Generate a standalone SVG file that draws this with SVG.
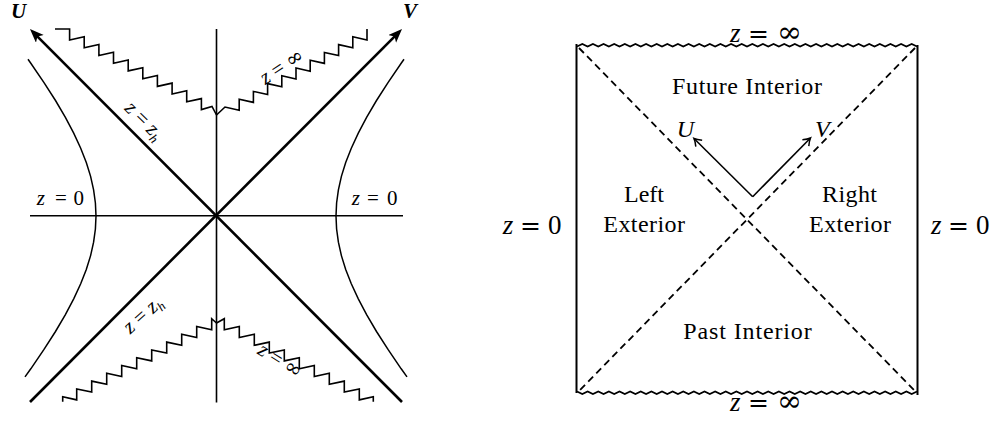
<svg xmlns="http://www.w3.org/2000/svg" width="1002" height="424" viewBox="0 0 1002 424">
<style>
.ln{stroke:#000;fill:none;stroke-linejoin:miter}
.ax{stroke-width:1.6}
.dg{stroke-width:2.6}
.hy{stroke-width:1.5}
.zz{stroke-width:1.6}
.bx{stroke-width:2}
.rz{stroke-width:1.8}
.da{stroke-width:1.8;stroke-dasharray:7 4.5}
.ar{stroke-width:1.6}
.t{font-family:"Liberation Serif","Times New Roman",serif;fill:#000}
.i{font-style:italic}
.s20{font-size:21px}
.s19{font-size:21px}
.s24{font-size:24px}
.s27{font-size:27px}
.inf{font-family:"DejaVu Serif",serif}
.eq{font-family:"DejaVu Serif",serif;font-size:25px}
</style>
<defs>
<marker id="ah" markerUnits="userSpaceOnUse" markerWidth="16" markerHeight="12" refX="10" refY="5.5" orient="auto">
<path d="M0,0 L14,5.5 L0,11 L3.5,5.5 z" fill="#000"/>
</marker>
<marker id="oa" markerUnits="userSpaceOnUse" markerWidth="12" markerHeight="12" refX="8" refY="5" orient="auto">
<path d="M1,0.5 Q5,3.8 8,5 Q5,6.2 1,9.5" fill="none" stroke="#000" stroke-width="1.5"/>
</marker>
</defs>

<g id="connectors">
<!-- left diagram -->
<line class="ln ax" x1="216.5" y1="29" x2="216.5" y2="402.5"/>
<line class="ln ax" x1="30" y1="215.7" x2="403" y2="215.7"/>
<line class="ln dg" x1="402" y1="402" x2="32.8" y2="31.8" marker-end="url(#ah)"/>
<line class="ln dg" x1="30" y1="402" x2="399.2" y2="31.8" marker-end="url(#ah)"/>
<path class="ln hy" d="M28.0,59.2 L30.8,63.2 L44.0,82.6 L55.5,100.5 L65.4,117.4 L73.7,133.2 L80.7,148.3 L86.3,162.6 L90.6,176.4 L93.6,189.8 L95.4,203.0 L96,216 L95.4,229.0 L93.6,242.2 L90.6,255.6 L86.3,269.4 L80.7,283.7 L73.7,298.8 L65.4,314.6 L55.5,331.5 L44.0,349.4 L30.8,368.8 L25.0,376.9"/>
<path class="ln hy" d="M404.0,59.2 L401.2,63.2 L388,82.6 L376.5,100.5 L366.6,117.4 L358.3,133.2 L351.3,148.3 L345.7,162.6 L341.4,176.4 L338.4,189.8 L336.6,203 L336,216 L336.6,229 L338.4,242.2 L341.4,255.6 L345.7,269.4 L351.3,283.7 L358.3,298.8 L366.6,314.6 L376.5,331.5 L388,349.4 L401.2,368.8 L407,376.9"/>
<path class="ln zz" d="M55,29 L69.6,29 L69.6,40 L84.2,36.7 L84.2,47.7 L98.9,44.5 L98.9,55.5 L113.5,52.2 L113.5,63.2 L128.2,59.9 L128.2,70.9 L142.8,67.7 L142.8,78.7 L157.4,75.4 L157.4,86.4 L172.1,83.1 L172.1,94.1 L186.7,90.8 L186.7,101.8 L201.4,98.6 L201.4,109.6 L212,106.5 L216.5,115"/>
<path class="ln zz" d="M216.5,115 L225,107 L239.2,110.2 L239.2,99.2 L253.4,102.4 L253.4,91.4 L267.6,94.6 L267.6,83.6 L281.8,86.8 L281.8,75.8 L296,79 L296,68 L310.2,71.2 L310.2,60.2 L324.4,63.4 L324.4,52.4 L338.6,55.6 L338.6,44.6 L352.8,47.8 L352.8,36.8 L367,40 L367,29"/>
<path class="ln zz" d="M62.7,401.7 L62.7,396.7 L76.7,399.9 L76.7,388.9 L91.7,392.1 L91.7,381.1 L106.7,384.3 L106.7,373.3 L121.7,376.5 L121.7,365.5 L136.7,368.7 L136.7,357.7 L151.7,360.9 L151.7,349.9 L166.7,353.1 L166.7,342.1 L181.7,345.3 L181.7,334.3 L196.7,337.5 L196.7,326.5 L211.7,329.7 L211.7,318.7 L216.5,323"/>
<path class="ln zz" d="M216.5,323 L224.3,318.7 L224.3,329.7 L239.3,326.5 L239.3,337.5 L254.3,334.3 L254.3,345.3 L269.3,342.1 L269.3,353.1 L284.3,349.9 L284.3,360.9 L299.3,357.7 L299.3,368.7 L314.3,365.5 L314.3,376.5 L329.3,373.3 L329.3,384.3 L344.3,381.1 L344.3,392.1 L359.3,388.9 L359.3,399.9 L373.3,396.7 L373.3,401.7"/>
<!-- right diagram -->
<line class="ln bx" x1="576.5" y1="44" x2="576.5" y2="393"/>
<line class="ln bx" x1="917.5" y1="45" x2="917.5" y2="395"/>
<path class="ln rz" d="M577,46.5 l5.3125,-2.5 5.3125,2.5 5.3125,-2.5 5.3125,2.5 5.3125,-2.5 5.3125,2.5 5.3125,-2.5 5.3125,2.5 5.3125,-2.5 5.3125,2.5 5.3125,-2.5 5.3125,2.5 5.3125,-2.5 5.3125,2.5 5.3125,-2.5 5.3125,2.5 5.3125,-2.5 5.3125,2.5 5.3125,-2.5 5.3125,2.5 5.3125,-2.5 5.3125,2.5 5.3125,-2.5 5.3125,2.5 5.3125,-2.5 5.3125,2.5 5.3125,-2.5 5.3125,2.5 5.3125,-2.5 5.3125,2.5 5.3125,-2.5 5.3125,2.5 5.3125,-2.5 5.3125,2.5 5.3125,-2.5 5.3125,2.5 5.3125,-2.5 5.3125,2.5 5.3125,-2.5 5.3125,2.5 5.3125,-2.5 5.3125,2.5 5.3125,-2.5 5.3125,2.5 5.3125,-2.5 5.3125,2.5 5.3125,-2.5 5.3125,2.5 5.3125,-2.5 5.3125,2.5 5.3125,-2.5 5.3125,2.5 5.3125,-2.5 5.3125,2.5 5.3125,-2.5 5.3125,2.5 5.3125,-2.5 5.3125,2.5 5.3125,-2.5 5.3125,2.5 5.3125,-2.5 5.3125,2.5 5.3125,-2.5 5.3125,2.5"/>
<path class="ln rz" d="M577,391.5 l5.3125,2.5 5.3125,-2.5 5.3125,2.5 5.3125,-2.5 5.3125,2.5 5.3125,-2.5 5.3125,2.5 5.3125,-2.5 5.3125,2.5 5.3125,-2.5 5.3125,2.5 5.3125,-2.5 5.3125,2.5 5.3125,-2.5 5.3125,2.5 5.3125,-2.5 5.3125,2.5 5.3125,-2.5 5.3125,2.5 5.3125,-2.5 5.3125,2.5 5.3125,-2.5 5.3125,2.5 5.3125,-2.5 5.3125,2.5 5.3125,-2.5 5.3125,2.5 5.3125,-2.5 5.3125,2.5 5.3125,-2.5 5.3125,2.5 5.3125,-2.5 5.3125,2.5 5.3125,-2.5 5.3125,2.5 5.3125,-2.5 5.3125,2.5 5.3125,-2.5 5.3125,2.5 5.3125,-2.5 5.3125,2.5 5.3125,-2.5 5.3125,2.5 5.3125,-2.5 5.3125,2.5 5.3125,-2.5 5.3125,2.5 5.3125,-2.5 5.3125,2.5 5.3125,-2.5 5.3125,2.5 5.3125,-2.5 5.3125,2.5 5.3125,-2.5 5.3125,2.5 5.3125,-2.5 5.3125,2.5 5.3125,-2.5 5.3125,2.5 5.3125,-2.5 5.3125,2.5 5.3125,-2.5 5.3125,2.5 5.3125,-2.5"/>
<line class="ln da" x1="579" y1="48" x2="915" y2="391"/>
<line class="ln da" x1="915" y1="48" x2="579" y2="391"/>
<line class="ln ar" x1="752.7" y1="196.7" x2="694" y2="138.5" marker-end="url(#oa)"/>
<line class="ln ar" x1="752.7" y1="196.7" x2="810.5" y2="138" marker-end="url(#oa)"/>
</g>

<g id="left-labels">
<text class="t s20 i" x="11" y="18" font-weight="bold">U</text>
<text class="t s20 i" x="403" y="18" font-weight="bold">V</text>
<text class="t s20"><tspan class="i" x="36.7" y="205">z</tspan><tspan x="55" y="205">=</tspan><tspan x="73.5" y="205">0</tspan></text>
<text class="t s20"><tspan class="i" x="351.7" y="205">z</tspan><tspan x="367" y="205">=</tspan><tspan x="387" y="205">0</tspan></text>
<text class="t s19" text-anchor="middle" transform="translate(144,121) rotate(45)" dy="6"><tspan class="i">z</tspan> = <tspan class="i">z</tspan><tspan class="i" font-size="13" dy="4">h</tspan></text>
<text class="t s19" text-anchor="middle" transform="translate(282,67) rotate(-33)" dy="6"><tspan class="i">z</tspan> = <tspan class="inf">∞</tspan></text>
<text class="t s19" text-anchor="middle" transform="translate(143,315) rotate(-42)" dy="6"><tspan class="i">z</tspan> = <tspan class="i">z</tspan><tspan class="i" font-size="13" dy="4">h</tspan></text>
<text class="t s19" text-anchor="middle" transform="translate(280,361) rotate(32)" dy="6"><tspan class="i">z</tspan> = <tspan class="inf">∞</tspan></text>
</g>

<g id="right-labels">
<text class="t s27"><tspan class="i" x="730" y="42">z</tspan><tspan class="eq" x="748" y="42">=</tspan><tspan class="inf" x="777" y="42" font-size="30">∞</tspan></text>
<text class="t s27"><tspan class="i" x="730" y="411">z</tspan><tspan class="eq" x="748" y="411">=</tspan><tspan class="inf" x="777" y="411" font-size="30">∞</tspan></text>
<text class="t s27"><tspan class="i" x="502.7" y="234">z</tspan><tspan class="eq" x="520" y="234">=</tspan><tspan x="548" y="234">0</tspan></text>
<text class="t s27"><tspan class="i" x="931" y="234">z</tspan><tspan class="eq" x="948" y="234">=</tspan><tspan x="976" y="234">0</tspan></text>
<text class="t s24 i" x="676.7" y="136.7">U</text>
<text class="t s24 i" x="815" y="136.7">V</text>
</g>

<g id="future-interior"><text class="t s24" x="672" y="94.3" textLength="150" lengthAdjust="spacing">Future Interior</text></g>
<g id="left-exterior">
<text class="t s24" x="624" y="201.5" textLength="40" lengthAdjust="spacing">Left</text>
<text class="t s24" x="603.3" y="231.7" textLength="81.7" lengthAdjust="spacing">Exterior</text>
</g>
<g id="right-exterior">
<text class="t s24" x="822" y="201.5" textLength="55" lengthAdjust="spacing">Right</text>
<text class="t s24" x="809" y="231.7" textLength="82" lengthAdjust="spacing">Exterior</text>
</g>
<g id="past-interior"><text class="t s24" x="683.3" y="339.3" textLength="128.4" lengthAdjust="spacing">Past Interior</text></g>
</svg>
